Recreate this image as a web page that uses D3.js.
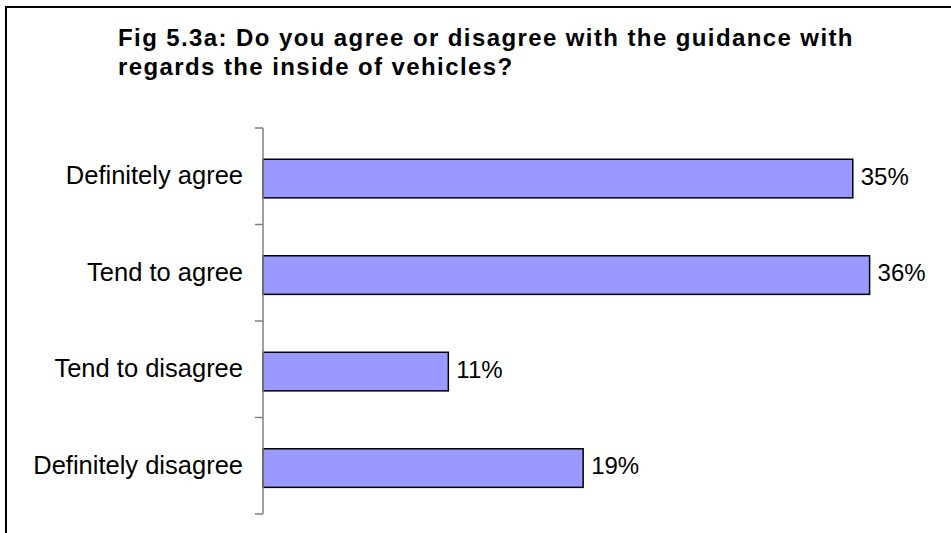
<!DOCTYPE html>
<html>
<head>
<meta charset="utf-8">
<script src="https://cdn.jsdelivr.net/npm/d3@7"></script>
<style>
  html, body { margin: 0; padding: 0; background: #fff; }
  svg { display: block; font-family: "Liberation Sans", Arial, sans-serif; }
</style>
</head>
<body>
<svg id="chart" width="951" height="533"></svg>
<script>
// Survey responses (percent of respondents)
const categories = ["Definitely agree", "Tend to agree", "Tend to disagree", "Definitely disagree"];
const values = [35, 36, 11, 19];
const titleLines = [
  "Fig 5.3a: Do you agree or disagree with the guidance with",
  "regards the inside of vehicles?"
];

const svg = d3.select("#chart");
const W = 951, H = 533;

// Chart frame: left and top edges
svg.append("path")
  .attr("d", `M6,${H} L6,7 L${W},7`)
  .attr("fill", "none")
  .attr("stroke", "#000")
  .attr("stroke-width", 2);

// Title
const title = svg.append("text")
  .attr("x", 118)
  .attr("y", 46)
  .attr("font-size", 24)
  .attr("font-weight", "bold")
  .attr("letter-spacing", 1.4)
  .attr("fill", "#000");
title.selectAll("tspan")
  .data(titleLines)
  .join("tspan")
  .attr("x", 118)
  .attr("dy", (d, i) => i === 0 ? 0 : 28.5)
  .text(d => d);

// Scales
const axisX = 263;
const y = d3.scaleBand()
  .domain(categories)
  .range([128, 514])
  .paddingInner(0.6)
  .paddingOuter(0.3)
  .align(0.54);
const yOuter = d3.scaleBand().domain(categories).range([128, 514]);
const x = d3.scaleLinear().domain([0, 40]).range([axisX, 937]);

// Bars
svg.append("g")
  .selectAll("rect")
  .data(values)
  .join("rect")
  .attr("x", x(0))
  .attr("y", (d, i) => y(categories[i]))
  .attr("width", d => x(d) - x(0))
  .attr("height", y.bandwidth())
  .attr("fill", "#9999ff")
  .attr("stroke", "#000")
  .attr("stroke-width", 1.5);

// Category axis with ticks at band boundaries
const axisG = svg.append("g").attr("transform", `translate(${axisX},0)`);
axisG.append("line")
  .attr("x1", 0).attr("x2", 0)
  .attr("y1", 128).attr("y2", 514)
  .attr("stroke", "#808080").attr("stroke-width", 1.5);
const tickPos = categories.map(c => yOuter(c)).concat([514]);
axisG.selectAll("line.tick")
  .data(tickPos)
  .join("line")
  .attr("class", "tick")
  .attr("x1", -8).attr("x2", 0)
  .attr("y1", d => d).attr("y2", d => d)
  .attr("stroke", "#808080").attr("stroke-width", 1.5);

// Category labels
svg.append("g")
  .selectAll("text")
  .data(categories)
  .join("text")
  .attr("x", axisX - 20)
  .attr("y", d => y(d) + y.bandwidth() / 2)
  .attr("dy", "0.22em")
  .attr("text-anchor", "end")
  .attr("font-size", 25.5)
  .attr("fill", "#000")
  .text(d => d);

// Value labels
svg.append("g")
  .selectAll("text")
  .data(values)
  .join("text")
  .attr("x", d => x(d) + 8)
  .attr("y", (d, i) => y(categories[i]) + y.bandwidth() / 2)
  .attr("dy", "0.25em")
  .attr("font-size", 24)
  .attr("fill", "#000")
  .text(d => d + "%");
</script>
</body>
</html>
